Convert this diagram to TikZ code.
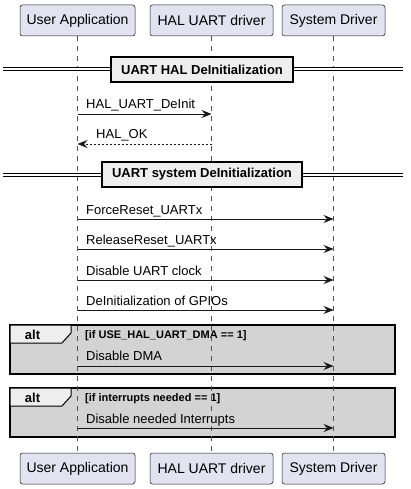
\documentclass[tikz,border=0pt]{standalone}
\usepackage{fontspec}
\setmainfont{Liberation Sans}
\usetikzlibrary{arrows.meta}
\definecolor{partfill}{HTML}{E2E2F0}
\definecolor{partline}{HTML}{181818}
\definecolor{divfill}{HTML}{EEEEEE}
\definecolor{altfill}{HTML}{D3D3D3}

\begin{document}
\begin{tikzpicture}[x=1pt, y=-1pt,
  participant/.style={draw=partline, fill=partfill, rounded corners=2.5pt, line width=0.5pt,
    minimum height=31pt, inner sep=0pt, font=\fontsize{14}{16}\selectfont},
  lifeline/.style={draw=partline!75, line width=0.6pt, dash pattern=on 5pt off 5pt},
  divider/.style={draw=black, fill=divfill, line width=1.5pt, minimum height=25pt,
    inner xsep=10pt, font=\bfseries\fontsize{13}{15}\selectfont},
  divline/.style={draw=black, line width=1pt, double, double distance=2pt},
  msg/.style={draw=partline, line width=0.8pt, -{Stealth[length=10pt, width=8pt, inset=3.5pt]}},
  ret/.style={msg, dash pattern=on 2pt off 2pt},
  msgtext/.style={anchor=base west, inner sep=0pt, font=\fontsize{13}{15}\selectfont},
  altbox/.style={draw=black, fill=altfill, line width=1.5pt},
  alttab/.style={draw=black, fill=divfill, line width=1pt},
  alttext/.style={anchor=base, inner sep=0pt, font=\bfseries\fontsize{13}{15}\selectfont},
  cond/.style={anchor=base west, inner sep=0pt, font=\bfseries\fontsize{11}{13}\selectfont}]

\useasboundingbox (0,0) rectangle (410,489);

% Participants, top and bottom
\node[participant, minimum width=115pt] (uaTop) at (77.5,20.5) {User Application};
\node[participant, minimum width=123pt] (halTop) at (211.5,20.5) {HAL UART driver};
\node[participant, minimum width=103pt] (sdTop) at (333.5,20.5) {System Driver};
\node[participant, minimum width=115pt] (uaBot) at (77.5,468.5) {User Application};
\node[participant, minimum width=123pt] (halBot) at (211.5,468.5) {HAL UART driver};
\node[participant, minimum width=103pt] (sdBot) at (333.5,468.5) {System Driver};

% alt fragments (behind the lifelines)
\draw[altbox] (10,325) rectangle (395,374);
\draw[alttab] (10,325) -- (71,325) -- (71,333) -- (62,343) -- (10,343) -- cycle;
\node[alttext] (alt1) at (32.5,339) {alt};
\node[cond] (cond1) at (85,338) {[if USE\_HAL\_UART\_DMA == 1]};

\draw[altbox] (10,388) rectangle (395,437);
\draw[alttab] (10,388) -- (71,388) -- (71,396) -- (62,406) -- (10,406) -- cycle;
\node[alttext] (alt2) at (32.5,402) {alt};
\node[cond] (cond2) at (85,401) {[if interrupts needed == 1]};

% Lifelines
\draw[lifeline] (uaTop.south) -- (uaBot.north);
\draw[lifeline] (halTop.south) -- (halBot.north);
\draw[lifeline] (sdTop.south) -- (sdBot.north);

% Dividers
\draw[divline] (3,69.5) -- (403,69.5);
\node[divider] (div1) at (202,69.5) {UART HAL DeInitialization};
\draw[divline] (3,175) -- (403,175);
\node[divider] (div2) at (202,174.5) {UART system DeInitialization};

% Messages
\draw[msg] (uaTop.south |- 0,114) -- (halTop.south |- 0,114);
\node[msgtext] (m1) at (86,109) {HAL\_UART\_DeInit};
\draw[ret] (halTop.south |- 0,144) -- (uaTop.south |- 0,144);
\node[msgtext] (m2) at (96,139) {HAL\_OK};

\draw[msg] (uaTop.south |- 0,219) -- (sdTop.south |- 0,219);
\node[msgtext] (m3) at (86,214) {ForceReset\_UARTx};
\draw[msg] (uaTop.south |- 0,249) -- (sdTop.south |- 0,249);
\node[msgtext] (m4) at (86,244) {ReleaseReset\_UARTx};
\draw[msg] (uaTop.south |- 0,280) -- (sdTop.south |- 0,280);
\node[msgtext] (m5) at (86,275) {Disable UART clock};
\draw[msg] (uaTop.south |- 0,310) -- (sdTop.south |- 0,310);
\node[msgtext] (m6) at (86,305) {DeInitialization of GPIOs};

\draw[msg] (uaTop.south |- 0,366) -- (sdTop.south |- 0,366);
\node[msgtext] (m7) at (86,360) {Disable DMA};
\draw[msg] (uaTop.south |- 0,428) -- (sdTop.south |- 0,428);
\node[msgtext] (m8) at (86,423) {Disable needed Interrupts};
\end{tikzpicture}
\end{document}
